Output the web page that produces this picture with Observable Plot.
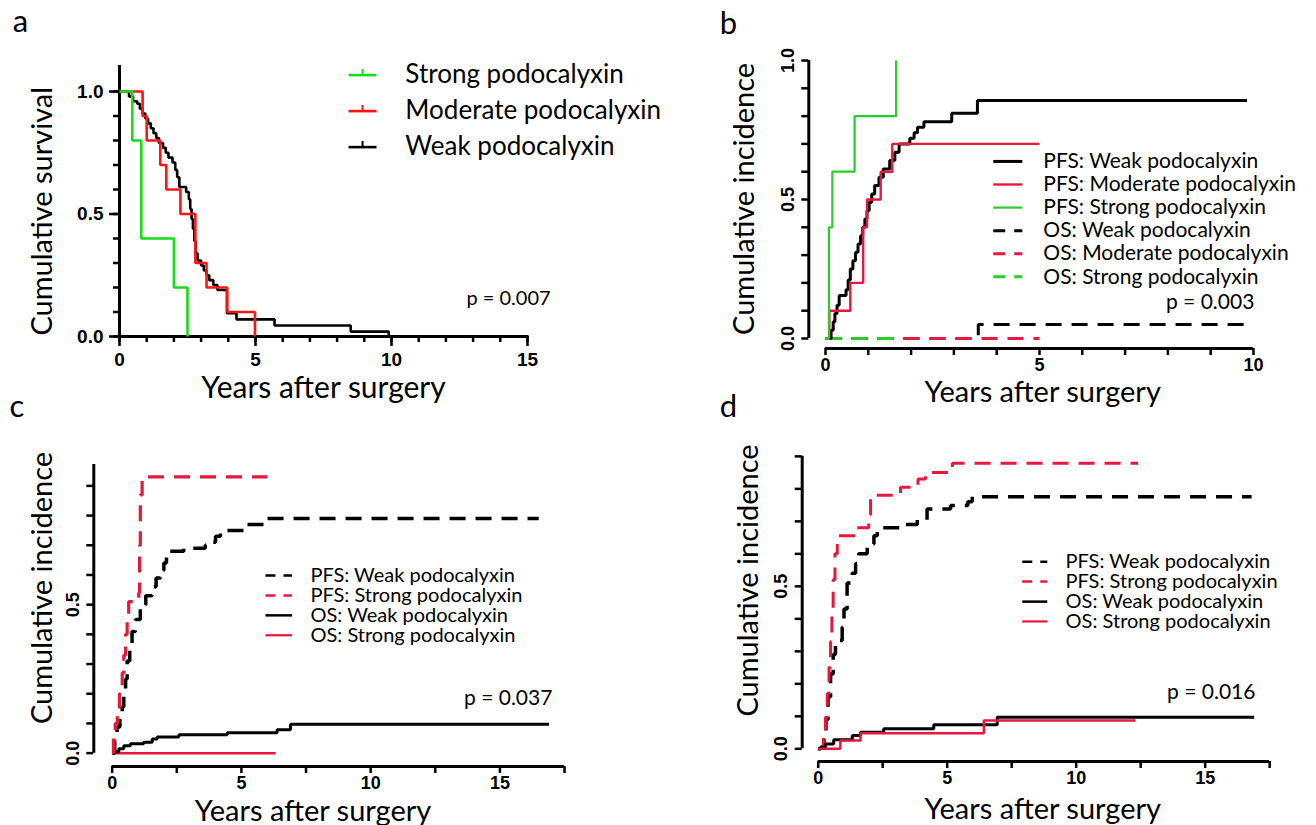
<!DOCTYPE html>
<html>
<head>
<meta charset="utf-8">
<script src="https://cdn.jsdelivr.net/npm/d3@7"></script>
<script src="https://cdn.jsdelivr.net/npm/@observablehq/plot@0.6"></script>
<style>
  html, body { margin: 0; padding: 0; background: #fff; }
  body { width: 1316px; height: 825px; position: relative; overflow: hidden; }
  .panel { position: absolute; }
</style>
</head>
<body>
<div id="pa" class="panel" style="left:0px;top:0px"></div>
<div id="pb" class="panel" style="left:658px;top:0px"></div>
<div id="pc" class="panel" style="left:0px;top:400px"></div>
<div id="pd" class="panel" style="left:658px;top:400px"></div>
<script>
// ================= DATA =================
// Panel a – cumulative survival (years, survival)
const aXTicks = [0, 5, 10, 15];
const aXMinorTicks = [0, 1, 2, 3, 4, 5, 6, 7, 8, 9, 10, 11, 12, 13, 14, 15];
const aYTicks = [0, 0.5, 1.0];
const aYMinorTicks = [0, 0.1, 0.2, 0.3, 0.4, 0.5, 0.6, 0.7, 0.8, 0.9, 1.0];
const aXDomain = [0, 15];
const aYDomain = [0, 1.1];
const aStrong = [[0, 1], [0.47, 0.8], [0.8, 0.4], [2.0, 0.2], [2.5, 0]];
const aModerate = [[0, 1], [0.85, 0.9], [1.0, 0.8], [1.5, 0.7], [1.72, 0.6], [2.24, 0.5], [2.79, 0.3], [3.2, 0.2], [3.96, 0.1], [4.98, 0]];
const aWeak = [[0, 1], [0.35, 0.98], [0.5, 0.96], [0.65, 0.95], [0.75, 0.93], [0.85, 0.91], [0.95, 0.89], [1.05, 0.87], [1.15, 0.85], [1.25, 0.83], [1.35, 0.81], [1.45, 0.79], [1.6, 0.77], [1.7, 0.75], [1.8, 0.73], [1.95, 0.71], [2.05, 0.68], [2.12, 0.65], [2.2, 0.61], [2.45, 0.59], [2.55, 0.56], [2.6, 0.52], [2.65, 0.48], [2.7, 0.44], [2.75, 0.39], [2.8, 0.34], [2.87, 0.31], [3.0, 0.29], [3.1, 0.27], [3.2, 0.25], [3.3, 0.23], [3.45, 0.21], [3.6, 0.19], [3.95, 0.095], [4.3, 0.07], [5.7, 0.045], [8.5, 0.02], [9.9, 0]];
const aLegendLabels = ["Strong podocalyxin", "Moderate podocalyxin", "Weak podocalyxin"];
const aPValue = "p = 0.007";

// Panel b – cumulative incidence, three groups
const bXTicks = [0, 1, 2, 3, 4, 5, 6, 7, 8, 9, 10];
const bXLabels = [0, 5, 10];
const bYTicks = [0, 0.1, 0.2, 0.3, 0.4, 0.5, 0.6, 0.7, 0.8, 0.9, 1.0];
const bYLabels = [0, 0.5, 1.0];
const bXDomain = [-0.39, 10.4];
const bYDomain = [-0.036, 1.04];
const bPfsWeak = [[0.1, 0], [0.13, 0.03], [0.18, 0.06], [0.22, 0.09], [0.27, 0.12], [0.32, 0.155], [0.48, 0.175], [0.53, 0.21], [0.58, 0.25], [0.64, 0.28], [0.7, 0.31], [0.76, 0.34], [0.82, 0.37], [0.87, 0.4], [0.92, 0.43], [0.97, 0.46], [1.02, 0.49], [1.08, 0.52], [1.15, 0.55], [1.25, 0.58], [1.35, 0.61], [1.5, 0.64], [1.62, 0.67], [1.72, 0.7], [1.97, 0.72], [2.07, 0.74], [2.15, 0.76], [2.3, 0.78], [2.95, 0.81], [3.55, 0.856], [9.85, 0.856]];
const bPfsModerate = [[0.09, 0], [0.09, 0.1], [0.58, 0.2], [0.88, 0.4], [0.97, 0.5], [1.29, 0.6], [1.56, 0.7], [5.0, 0.7]];
const bPfsStrong = [[0.08, 0], [0.08, 0.4], [0.16, 0.6], [0.68, 0.8], [1.65, 1.0]];
const bOsWeak = [[0, 0], [3.57, 0.05], [9.85, 0.05]];
const bOsModerate = [[0, 0], [5.0, 0]];
const bOsStrong = [[0, 0], [1.65, 0]];
const bLegendLabels = ["PFS: Weak podocalyxin", "PFS: Moderate podocalyxin", "PFS: Strong podocalyxin", "OS: Weak podocalyxin", "OS: Moderate podocalyxin", "OS: Strong podocalyxin"];
const bPValue = "p = 0.003";

// Panel c – cumulative incidence, weak vs strong
const cXTicks = [0, 2.5, 5, 7.5, 10, 12.5, 15, 17.5];
const cXLabels = [0, 5, 10, 15];
const cYTicks = [0, 0.1, 0.2, 0.3, 0.4, 0.5, 0.6, 0.7, 0.8, 0.9];
const cYLabels = [0, 0.5];
const cXDomain = [-0.71, 17.8];
const cYDomain = [-0.045, 0.972];
const cPfsWeak = [[0, 0], [0.1, 0.04], [0.19, 0.088], [0.3, 0.12], [0.39, 0.155], [0.45, 0.2], [0.52, 0.25], [0.58, 0.31], [0.68, 0.36], [0.77, 0.41], [0.9, 0.45], [1.09, 0.5], [1.3, 0.53], [1.55, 0.56], [1.7, 0.59], [1.87, 0.615], [2.0, 0.64], [2.1, 0.66], [2.19, 0.68], [2.77, 0.69], [3.6, 0.7], [3.8, 0.71], [4.0, 0.73], [4.19, 0.75], [5.22, 0.77], [6.0, 0.79], [16.5, 0.79]];
const cPfsStrong = [[0, 0], [0.05, 0.05], [0.12, 0.1], [0.2, 0.15], [0.28, 0.2], [0.39, 0.27], [0.45, 0.33], [0.52, 0.4], [0.58, 0.46], [0.64, 0.51], [1.03, 0.54], [1.06, 0.7], [1.09, 0.87], [1.16, 0.93], [6.0, 0.93]];
const cOsWeak = [[0, 0], [0.1, 0.005], [0.26, 0.015], [0.45, 0.025], [0.71, 0.032], [1.22, 0.037], [1.55, 0.048], [1.74, 0.054], [2.58, 0.062], [4.45, 0.069], [6.38, 0.079], [6.9, 0.097], [16.9, 0.097]];
const cOsStrong = [[0, 0], [6.32, 0]];
const cLegendLabels = ["PFS: Weak podocalyxin", "PFS: Strong podocalyxin", "OS: Weak podocalyxin", "OS: Strong podocalyxin"];
const cPValue = "p = 0.037";

// Panel d – cumulative incidence, weak vs strong
const dXTicks = [0, 2.5, 5, 7.5, 10, 12.5, 15, 17.5];
const dXLabels = [0, 5, 10, 15];
const dYTicks = [0, 0.1, 0.2, 0.3, 0.4, 0.5, 0.6, 0.7, 0.8, 0.9];
const dYLabels = [0, 0.5];
const dXDomain = [-0.62, 17.8];
const dYDomain = [-0.039, 0.915];
const dPfsWeak = [[0, 0], [0.1, 0.005], [0.22, 0.026], [0.3, 0.09], [0.38, 0.16], [0.48, 0.23], [0.58, 0.29], [0.67, 0.333], [0.93, 0.374], [1.0, 0.43], [1.12, 0.51], [1.32, 0.54], [1.45, 0.57], [1.57, 0.6], [1.9, 0.63], [2.16, 0.656], [2.29, 0.68], [3.32, 0.69], [3.84, 0.705], [4.22, 0.738], [5.13, 0.749], [5.8, 0.76], [5.97, 0.776], [16.8, 0.776]];
const dPfsStrong = [[0, 0], [0.09, 0.005], [0.2, 0.05], [0.28, 0.097], [0.35, 0.17], [0.42, 0.25], [0.48, 0.33], [0.53, 0.42], [0.58, 0.52], [0.65, 0.6], [0.74, 0.656], [1.51, 0.68], [1.96, 0.72], [2.03, 0.78], [3.19, 0.805], [3.87, 0.83], [4.16, 0.85], [5.2, 0.879], [12.4, 0.879]];
const dOsWeak = [[0, 0], [0.1, 0.005], [0.28, 0.015], [0.6, 0.028], [1.32, 0.041], [1.64, 0.051], [2.54, 0.062], [4.48, 0.074], [6.94, 0.097], [16.9, 0.097]];
const dOsStrong = [[0, 0], [0.86, 0.026], [1.64, 0.048], [6.42, 0.087], [12.3, 0.087]];
const dLegendLabels = ["PFS: Weak podocalyxin", "PFS: Strong podocalyxin", "OS: Weak podocalyxin", "OS: Strong podocalyxin"];
const dPValue = "p = 0.016";

const axisTitleX = "Years after surgery";
const axisTitleYa = "Cumulative survival";
const axisTitleYi = "Cumulative incidence";
const panelLetters = ["a", "b", "c", "d"];

// ================= STYLE =================
const FONT = "Lato, 'Open Sans', 'DejaVu Sans', sans-serif";
const TICKFONT = "'Liberation Sans', Arial, 'DejaVu Sans', sans-serif";
const BLACK = "#000000";
const RED_A = "#ff1414";
const GREEN_A = "#18dc18";
const RED = "#e8173d";
const GREEN = "#26d026";
const DASH = "16,10";

function stepLine(data, stroke, strokeWidth, dash) {
  return Plot.line(data, {
    x: d => d[0], y: d => d[1], curve: "step-after",
    stroke, strokeWidth, strokeDasharray: dash, strokeLinejoin: "miter", strokeLinecap: "butt"
  });
}

function legendMarks(labels, styles, L) {
  const rows = labels.map((label, i) => ({label, y: L.rows[i], x1: L.x1, x2: L.x2, tx: L.tx, xm: (L.x1 + L.x2) / 2, ...styles[i]}));
  const marks = rows.map(r => Plot.link([r], {
    x1: "x1", x2: "x2", y1: "y", y2: "y", stroke: r.color, strokeWidth: r.width,
    strokeDasharray: r.dash, strokeLinecap: "butt"
  }));
  if (L.tick) {
    rows.forEach(r => marks.push(Plot.link([r], {
      x1: "xm", x2: "xm", y1: "y", y2: d => d.y + L.tick, stroke: r.color, strokeWidth: 2
    })));
  }
  marks.push(Plot.text(rows, {
    x: "tx", y: "y", text: "label", textAnchor: "start", lineAnchor: "middle",
    fontFamily: FONT, fontWeight: "normal", fontSize: L.fontSize, fill: BLACK
  }));
  return marks;
}

function titles(cfg) {
  return [
    Plot.text([cfg.xTitle], {text: d => d, frameAnchor: "bottom", lineAnchor: "bottom", textAnchor: "middle",
      dx: cfg.xTitleDx, dy: cfg.xTitleDy, fontFamily: FONT, fontWeight: "normal", fontSize: cfg.xTitleSize, fill: BLACK}),
    Plot.text([cfg.yTitle], {text: d => d, frameAnchor: "left", rotate: -90, lineAnchor: "middle", textAnchor: "middle",
      dx: cfg.yTitleDx, dy: cfg.yTitleDy, fontFamily: FONT, fontWeight: "normal", fontSize: 29, fill: BLACK}),
    Plot.text([cfg.letter], {text: d => d, frameAnchor: "top-left", lineAnchor: "bottom", textAnchor: "middle",
      dx: cfg.letterDx, dy: cfg.letterDy, fontFamily: FONT, fontWeight: "normal", fontSize: 31, fill: BLACK}),
    Plot.text([cfg.p], {x: cfg.pPos[0], y: cfg.pPos[1], text: d => d, textAnchor: "end", lineAnchor: "middle",
      fontFamily: FONT, fontWeight: "normal", fontSize: cfg.pSize, fill: BLACK})
  ];
}

function rAxes(xTicks, xLabels, yTicks, yLabels, xDom, yDom, yTop) {
  const fmtX = d => xLabels.includes(d) ? String(d) : "";
  const fmtY = d => yLabels.includes(d) ? d.toFixed(1) : "";
  return [
    Plot.ruleX([{x: xDom[0], y1: yTicks[0], y2: yTop}], {x: "x", y1: "y1", y2: "y2", stroke: BLACK, strokeWidth: 3}),
    Plot.ruleY([{y: yDom[0], x1: xTicks[0], x2: xTicks[xTicks.length - 1]}], {y: "y", x1: "x1", x2: "x2", stroke: BLACK, strokeWidth: 3}),
    Plot.axisX({ticks: xTicks, tickSize: 7, tickPadding: 3, tickFormat: fmtX, strokeWidth: 2.5, label: null,
      fontFamily: TICKFONT, fontWeight: "bold", fontSize: 18}),
    Plot.axisY({ticks: yTicks, tickSize: 7, tickPadding: 8, tickRotate: -90, tickFormat: fmtY, strokeWidth: 2.5, label: null,
      fontFamily: TICKFONT, fontWeight: "bold", fontSize: 18})
  ];
}

function render(id, w, h, m, xDom, yDom, marks) {
  const svg = Plot.plot({
    width: w, height: h,
    marginLeft: m[0], marginRight: m[1], marginTop: m[2], marginBottom: m[3],
    x: {domain: xDom}, y: {domain: yDom},
    style: {background: "transparent", overflow: "visible", fontFamily: TICKFONT, fontSize: "16px", color: "#000"},
    marks
  });
  document.getElementById(id).appendChild(svg);
}

// ---------- Panel a ----------
render("pa", 658, 400, [119, 131, 66.5, 64], aXDomain, aYDomain, [
  Plot.ruleX([{x: aXDomain[0], y1: aYDomain[0], y2: aYDomain[1]}], {x: "x", y1: "y1", y2: "y2", stroke: BLACK, strokeWidth: 3, strokeLinecap: "square"}),
  Plot.ruleY([{y: aYDomain[0], x1: aXDomain[0], x2: aXDomain[1]}], {y: "y", x1: "x1", x2: "x2", stroke: BLACK, strokeWidth: 3, strokeLinecap: "square"}),
  Plot.axisX({ticks: aXMinorTicks, tickSize: 6, tickFormat: () => "", strokeWidth: 2.5, label: null}),
  Plot.axisX({ticks: aXTicks, tickSize: 10, tickPadding: 6, tickFormat: d => String(d), strokeWidth: 2.5, label: null,
    fontFamily: TICKFONT, fontWeight: "bold", fontSize: 19}),
  Plot.axisY({ticks: aYMinorTicks, tickSize: 6, tickFormat: () => "", strokeWidth: 2.5, label: null}),
  Plot.axisY({ticks: aYTicks, tickSize: 10, tickPadding: 6, tickFormat: d => d.toFixed(1), strokeWidth: 2.5, label: null,
    fontFamily: TICKFONT, fontWeight: "bold", fontSize: 19}),
  stepLine(aWeak, BLACK, 2.6),
  stepLine(aModerate, RED_A, 2.6),
  stepLine(aStrong, GREEN_A, 2.6),
  ...legendMarks(aLegendLabels, [
    {color: GREEN_A, width: 2.6}, {color: RED_A, width: 2.6}, {color: BLACK, width: 2.6}
  ], {x1: 8.42, x2: 9.45, tx: 10.51, rows: [1.067, 0.92, 0.773], tick: 0.025, fontSize: 26}),
  ...titles({xTitle: axisTitleX, yTitle: axisTitleYa, letter: panelLetters[0], p: aPValue,
    xTitleDx: 0, xTitleDy: 61, xTitleSize: 30, yTitleDx: -77, yTitleDy: 9.5, letterDx: -99, letterDy: -35,
    pPos: [15.85, 0.155], pSize: 20})
]);

// ---------- Panel b ----------
render("pb", 658, 400, [150.3, 45.9, 48.9, 52], bXDomain, bYDomain, [
  ...rAxes(bXTicks, bXLabels, bYTicks, bYLabels, bXDomain, bYDomain, bYTicks[bYTicks.length - 1]),
  stepLine(bOsWeak, BLACK, 3, DASH),
  stepLine(bOsModerate, RED, 3, DASH),
  stepLine(bOsStrong, GREEN, 3, DASH),
  stepLine(bPfsWeak, BLACK, 3),
  stepLine(bPfsModerate, RED, 2.4),
  stepLine(bPfsStrong, GREEN, 2.2),
  ...legendMarks(bLegendLabels, [
    {color: BLACK, width: 3}, {color: RED, width: 2.4}, {color: GREEN, width: 2.2},
    {color: BLACK, width: 3, dash: "12,9"}, {color: RED, width: 3, dash: "12,9"}, {color: GREEN, width: 3, dash: "12,9"}
  ], {x1: 3.92, x2: 4.6, tx: 5.09, rows: [0.637, 0.554, 0.471, 0.388, 0.305, 0.222], fontSize: 21}),
  ...titles({xTitle: axisTitleX, yTitle: axisTitleYi, letter: panelLetters[1], p: bPValue,
    xTitleDx: 3, xTitleDy: 53, xTitleSize: 29, yTitleDx: -64, yTitleDy: 0, letterDx: -80.3, letterDy: -15.9,
    pPos: [10.02, 0.131], pSize: 21})
]);

// ---------- Panel c ----------
render("pc", 658, 425, [93.3, 86.2, 64, 59], cXDomain, cYDomain, [
  ...rAxes(cXTicks, cXLabels, cYTicks, cYLabels, cXDomain, cYDomain, cYDomain[1]),
  stepLine(cPfsWeak, BLACK, 3.5, DASH),
  stepLine(cOsStrong, RED, 2.5),
  stepLine(cOsWeak, BLACK, 3),
  stepLine(cPfsStrong, RED, 3.2, DASH),
  ...legendMarks(cLegendLabels, [
    {color: BLACK, width: 2.5, dash: "10,8"}, {color: RED, width: 2.5, dash: "10,8"},
    {color: BLACK, width: 2.5}, {color: RED, width: 2.2}
  ], {x1: 5.93, x2: 6.96, tx: 7.67, rows: [0.598, 0.531, 0.464, 0.397], fontSize: 20}),
  ...titles({xTitle: axisTitleX, yTitle: axisTitleYi, letter: panelLetters[2], p: cPValue,
    xTitleDx: -20, xTitleDy: 54, xTitleSize: 29, yTitleDx: -51, yTitleDy: -27.5, letterDx: -77, letterDy: -48,
    pPos: [17.03, 0.184], pSize: 21})
]);

// ---------- Panel d ----------
render("pd", 658, 425, [143.7, 39.1, 51, 64], dXDomain, dYDomain, [
  ...rAxes(dXTicks, dXLabels, dYTicks, dYLabels, dXDomain, dYDomain, dYTicks[dYTicks.length - 1]),
  stepLine(dPfsWeak, BLACK, 3.5, DASH),
  stepLine(dPfsStrong, RED, 3, DASH),
  stepLine(dOsWeak, BLACK, 3),
  stepLine(dOsStrong, RED, 2.5),
  ...legendMarks(dLegendLabels, [
    {color: BLACK, width: 2.5, dash: "10,8"}, {color: RED, width: 2.5, dash: "10,8"},
    {color: BLACK, width: 2.5}, {color: RED, width: 2.2}
  ], {x1: 7.91, x2: 8.88, tx: 9.59, rows: [0.576, 0.515, 0.453, 0.392], fontSize: 20}),
  ...titles({xTitle: axisTitleX, yTitle: axisTitleYi, letter: panelLetters[3], p: dPValue,
    xTitleDx: 3, xTitleDy: 57, xTitleSize: 29, yTitleDx: -53, yTitleDy: -26, letterDx: -73.7, letterDy: -35,
    pPos: [16.95, 0.174], pSize: 21})
]);
</script>
</body>
</html>
